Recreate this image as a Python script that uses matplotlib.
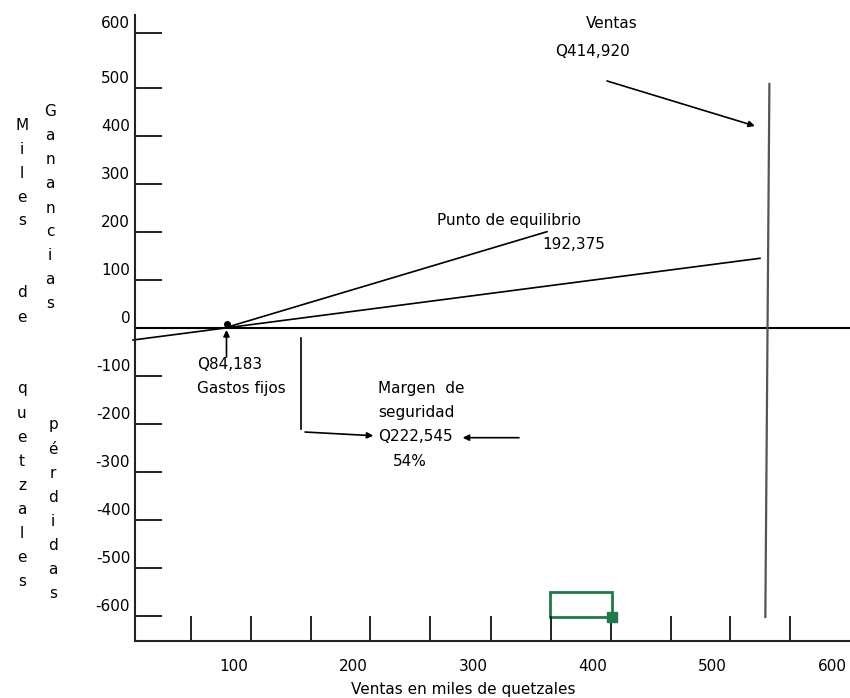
import matplotlib
matplotlib.use("Agg")
from matplotlib import pyplot as plt
from matplotlib.patches import Rectangle

plt.rcParams["font.family"] = ["DejaVu Sans"]
plt.rcParams["font.size"] = 11

# tick marks and tick labels (labels sit apart from the marks in the drawing)
x_tick_marks = [64, 114, 164, 214, 264, 315, 365, 415, 465, 515, 565]
x_tick_labels = [100, 200, 300, 400, 500, 600]
y_tick_marks = [614.6, 500, 400, 300, 200, 100, -100, -200, -300, -400, -500, -600]
y_tick_labels = ["600", "500", "400", "300", "200", "100", "0",
                 "-100", "-200", "-300", "-400", "-500", "-600"]
y_tick_label_vals = [614.6, 500, 400, 300, 200, 100, 0,
                     -100, -200, -300, -400, -500, -600]

# lines of the sketch
costos_x = [15.6, 539.8]
costos_y = [-25, 145.2]
equilibrio_x = [93.3, 361.7]
equilibrio_y = [1, 200.6]
ventas_x = [547.7, 544.3]
ventas_y = [508.3, -602]
margen_x = [156, 156]
margen_y = [-20.8, -210.4]

# arrows: (start x, start y, end x, end y)
arrows = [
    (411.9, 514.6, 535.6, 420.8),
    (93.7, -60.4, 93.7, -4.2),
    (159.4, -216.7, 216.5, -224.4),
    (338.3, -228.5, 291.2, -228.5),
]
punto_eq = (93.9, 7.7)

# green box near the x axis
caja_x = [364.2, 415.8]
caja_y = [-601.5, -549.4]

textos = [
    ("Ventas", 416, 635, "center"),
    ("Q414,920", 400, 575, "center"),
    ("Punto de equilibrio", 269.7, 223, "left"),
    ("192,375", 357.5, 173, "left"),
    ("Q84,183", 69.1, -75, "left"),
    ("Gastos fijos", 69.1, -127, "left"),
    ("Margen  de", 220.4, -127, "left"),
    ("seguridad", 220.4, -177, "left"),
    ("Q222,545", 220.4, -227, "left"),
    ("54%", 233, -279, "left"),
]

fig = plt.figure(figsize=(8.5, 6.98), dpi=100)
ax = fig.add_axes([135 / 850, 57 / 698, 715 / 850, 626 / 698])
ax.set_xlim(17.2, 615.1)
ax.set_ylim(-652, 652)

for s in ["top", "right"]:
    ax.spines[s].set_visible(False)
for s in ["left", "bottom"]:
    ax.spines[s].set_linewidth(1.5)
    ax.spines[s].set_color("#222222")

ax.set_xticks(x_tick_marks)
ax.set_xticklabels([])
ax.set_xticks(x_tick_labels, minor=True)
ax.set_xticklabels([str(v) for v in x_tick_labels], minor=True)
ax.tick_params(axis="x", which="major", direction="in", length=18, width=1.4, color="#222222")
ax.tick_params(axis="x", which="minor", length=0, pad=13)

ax.set_yticks(y_tick_marks)
ax.set_yticklabels([])
ax.set_yticks([v + 22.9 for v in y_tick_label_vals], minor=True)
ax.set_yticklabels(y_tick_labels, minor=True)
ax.tick_params(axis="y", which="major", direction="in", length=19.5, width=1.4, color="#222222")
ax.tick_params(axis="y", which="minor", length=0, pad=3.5)

ax.set_xlabel("Ventas en miles de quetzales")
ax.xaxis.set_label_coords((463.5 - 135) / 715, -0.066)

ax.axhline(0, color="black", lw=1.5)
ax.plot(costos_x, costos_y, color="black", lw=1.2, clip_on=False)
ax.plot(equilibrio_x, equilibrio_y, color="black", lw=1.2)
ax.plot(ventas_x, ventas_y, color="#555555", lw=1.6)
ax.plot(margen_x, margen_y, color="black", lw=1.2)
ax.plot([punto_eq[0]], [punto_eq[1]], "o", color="black", ms=4)

for x0, y0, x1, y1 in arrows:
    ax.annotate("", xy=(x1, y1), xytext=(x0, y0),
                arrowprops=dict(arrowstyle="-|>", color="black", lw=1.2,
                                mutation_scale=9, shrinkA=0, shrinkB=0))

ax.add_patch(Rectangle((caja_x[0], caja_y[0]), caja_x[1] - caja_x[0], caja_y[1] - caja_y[0],
                       fill=False, edgecolor="#1e7b48", lw=2))
ax.plot([caja_x[1]], [caja_y[0]], "s", color="#1e7b48", ms=7)

for t, x, y, ha in textos:
    ax.text(x, y, t, ha=ha, va="center")

# stacked vertical letters on the left
y = 125
for ch in "Miles":
    fig.text(22 / 850, 1 - y / 698, ch, ha="center", va="center")
    y += 24
y += 48
for ch in "de":
    fig.text(22 / 850, 1 - y / 698, ch, ha="center", va="center")
    y += 24
y += 48
for ch in "quetzales":
    fig.text(22 / 850, 1 - y / 698, ch, ha="center", va="center")
    y += 24

y = 112
for ch in "Ganancias":
    fig.text(50 / 850, 1 - y / 698, ch, ha="center", va="center")
    y += 24
y = 425
for ch in "pérdidas":
    fig.text(53 / 850, 1 - y / 698, ch, ha="center", va="center")
    y += 24

fig.savefig("out.png", dpi=100)
